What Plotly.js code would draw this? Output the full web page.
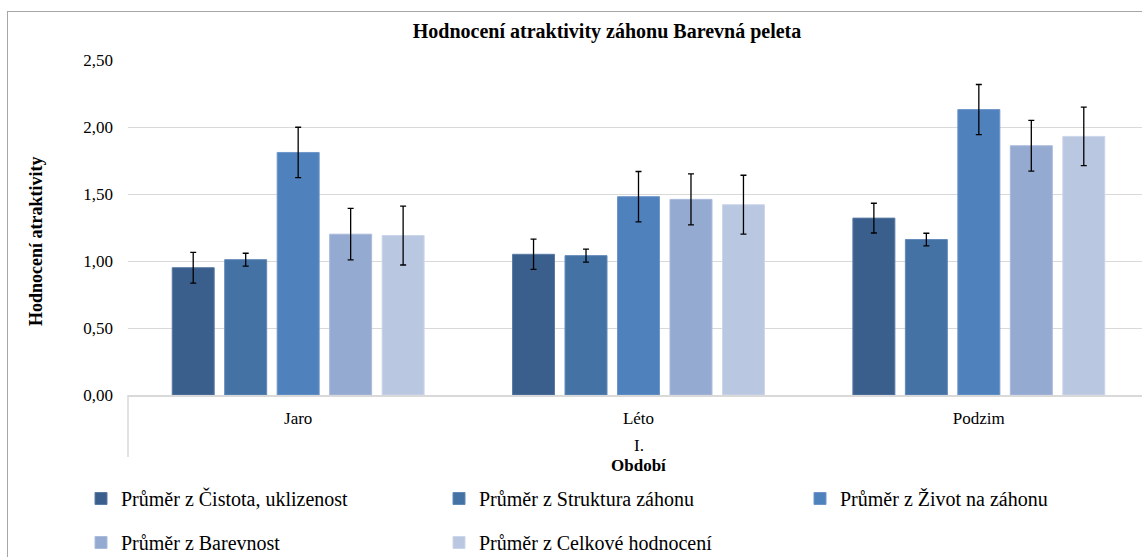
<!DOCTYPE html>
<html>
<head>
<meta charset="utf-8">
<script src="https://cdn.plot.ly/plotly-3.0.1.min.js"></script>
<style>
  html, body { margin: 0; padding: 0; background: #fff; overflow: hidden; width: 1142px; height: 557px; }
  #chart { position: absolute; left: 0; top: 0; }
  #frame { position: absolute; left: 7px; top: 11px; width: 1160px; height: 560px; border: 1px solid #A6A6A6; pointer-events: none; }
</style>
</head>
<body>
<div id="chart"></div>
<div id="frame"></div>
<script>
// Data
const categories = ['Jaro', 'Léto', 'Podzim'];
const outerLabel = 'I.';
const xTitle = 'Období';
const yTitle = 'Hodnocení atraktivity';
const seriesNames = [
  'Průměr z Čistota, uklizenost',
  'Průměr z Struktura záhonu',
  'Průměr z Život na záhonu',
  'Průměr z Barevnost',
  'Průměr z Celkové hodnocení'
];
const cistota    = [0.95, 1.05, 1.32];
const struktura  = [1.01, 1.04, 1.16];
const zivot      = [1.81, 1.48, 2.13];
const barevnost  = [1.20, 1.46, 1.86];
const celkove    = [1.19, 1.42, 1.93];
const errCistota   = [0.115, 0.113, 0.111];
const errStruktura = [0.048, 0.048, 0.047];
const errZivot     = [0.188, 0.188, 0.187];
const errBarevnost = [0.192, 0.190, 0.190];
const errCelkove   = [0.220, 0.220, 0.218];
const yTicks = [0, 0.5, 1, 1.5, 2, 2.5];

const values = [cistota, struktura, zivot, barevnost, celkove];
const errors = [errCistota, errStruktura, errZivot, errBarevnost, errCelkove];
const colors = ['#3A5F8C', '#4472A5', '#4F81BD', '#95AAD1', '#BAC7E1'];
const lineColors = ['#5A7BA4', '#6189B8', '#6E96CA', '#AABBDB', '#CCD6EA'];
const legendIds = ['legend', 'legend2', 'legend3', 'legend', 'legend2'];

const W = 1150, H = 557;
const serif = 'Liberation Serif, Times New Roman, serif';

const traces = seriesNames.map((name, i) => ({
  type: 'bar',
  name: name,
  x: categories,
  y: values[i],
  marker: { color: colors[i], line: { color: lineColors[i], width: 1 } },
  error_y: { type: 'data', array: errors[i], visible: true, color: '#000000', thickness: 1.3, width: 3 },
  legend: legendIds[i],
  legendgroup: 'g' + i,
  hoverinfo: 'skip'
}));

const legendBase = {
  xref: 'container', yref: 'container',
  xanchor: 'left', yanchor: 'top',
  orientation: 'v',
  traceorder: 'grouped',
  tracegroupgap: 15,
  bgcolor: 'rgba(0,0,0,0)',
  borderwidth: 0,
  font: { family: serif, size: 20, color: '#000' }
};
const legTop = 1 - 479 / H;

const layout = {
  width: W, height: H,
  margin: { l: 128, r: 1, t: 60, b: 162, autoexpand: false },
  paper_bgcolor: '#ffffff',
  plot_bgcolor: '#ffffff',
  barmode: 'group',
  bargap: 0.229,
  bargroupgap: 0.2,
  title: {
    text: '<b>Hodnocení atraktivity záhonu Barevná peleta</b>',
    font: { family: serif, size: 20, color: '#000' },
    xref: 'container', x: 607 / W, xanchor: 'center',
    yref: 'container', y: 1 - 31 / H, yanchor: 'middle'
  },
  xaxis: {
    type: 'category',
    tickfont: { family: serif, size: 17, color: '#000' },
    showline: true, linecolor: '#D9D9D9', linewidth: 1.5,
    ticks: '', showgrid: false, zeroline: false,
    tickangle: 0,
    ticklabelstandoff: 7
  },
  yaxis: {
    range: [0, 2.5],
    tickvals: yTicks,
    tickformat: '.2f',
    tickfont: { family: serif, size: 17, color: '#000' },
    showgrid: true, gridcolor: '#D9D9D9', gridwidth: 1,
    zeroline: false, showline: false, ticks: '',
    ticklabelstandoff: 14
  },
  separators: ', ',
  showlegend: true,
  legend:  Object.assign({}, legendBase, { x: 81 / W, y: legTop }),
  legend2: Object.assign({}, legendBase, { x: 439 / W, y: legTop }),
  legend3: Object.assign({}, legendBase, { x: 800 / W, y: legTop }),
  shapes: [
    { type: 'line', xref: 'paper', yref: 'paper', x0: 0, x1: 0, y0: 0, y1: -62 / 335,
      line: { color: '#D9D9D9', width: 1.5 } }
  ],
  annotations: [
    { text: '<b>' + yTitle + '</b>', xref: 'paper', yref: 'paper', x: (36 - 128) / 1021, y: (395 - 241) / 335,
      xanchor: 'center', yanchor: 'middle', textangle: -90,
      showarrow: false, font: { family: serif, size: 18, color: '#000' } },
    { text: outerLabel, xref: 'paper', yref: 'paper', x: 0.5, y: -50 / 335, yanchor: 'middle',
      showarrow: false, font: { family: serif, size: 17, color: '#000' } },
    { text: '<b>' + xTitle + '</b>', xref: 'paper', yref: 'paper', x: 0.5, y: -70 / 335, yanchor: 'middle',
      showarrow: false, font: { family: serif, size: 17, color: '#000' } }
  ]
};

Plotly.newPlot('chart', traces, layout, { displayModeBar: false, staticPlot: true });
</script>
</body>
</html>
